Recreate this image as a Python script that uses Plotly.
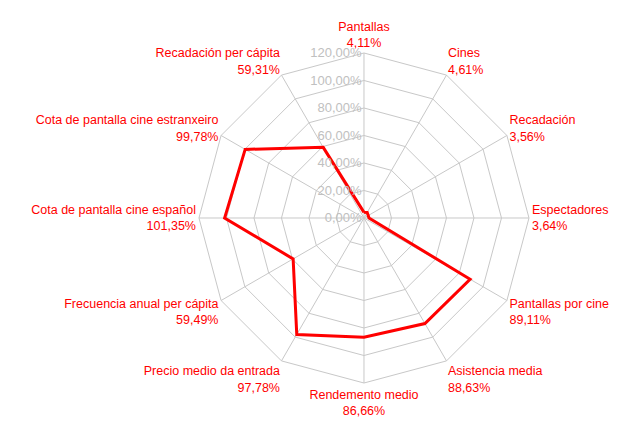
import plotly.graph_objects as go

categories = ["Pantallas", "Cines", "Recadación", "Espectadores", "Pantallas por cine",
              "Asistencia media", "Rendemento medio", "Precio medio da entrada",
              "Frecuencia anual per cápita", "Cota de pantalla cine español",
              "Cota de pantalla cine estranxeiro", "Recadación per cápita"]
values = [4.11, 4.61, 3.56, 3.64, 89.11, 88.63, 86.66, 97.78, 59.49, 101.35, 99.78, 59.31]
radial_ticks = [0, 20, 40, 60, 80, 100, 120]
radial_labels = ["0,00%", "20,00%", "40,00%", "60,00%", "80,00%", "100,00%", "120,00%"]


def fmt(v):
    return f"{v:.2f}".replace(".", ",") + "%"


ticktext = [f"{c}<br>{fmt(v)}" for c, v in zip(categories, values)]

fig = go.Figure()
fig.add_trace(go.Scatterpolar(
    r=values + [values[0]],
    theta=categories + [categories[0]],
    mode="lines",
    line=dict(color="#ff0000", width=3),
    showlegend=False,
    hoverinfo="skip",
))

fig.update_layout(
    width=628, height=428,
    margin=dict(l=0, r=0, t=0, b=0),
    paper_bgcolor="white",
    font=dict(family="Liberation Sans, Arial, sans-serif", size=12.5, color="#ff0000"),
    polar=dict(
        domain=dict(x=[0.3041, 0.8296], y=[0.1238, 0.8949]),
        bgcolor="white",
        gridshape="linear",
        radialaxis=dict(
            range=[0, 120],
            tickmode="array",
            tickvals=radial_ticks,
            ticktext=radial_labels,
            angle=90,
            tickangle=90,
            side="counterclockwise",
            showline=False,
            gridcolor="#c8c8c8",
            gridwidth=1,
            ticks="",
            tickfont=dict(color="#c0c0c0", size=13),
        ),
        angularaxis=dict(
            rotation=90,
            direction="clockwise",
            tickvals=categories,
            ticktext=ticktext,
            showline=True,
            linecolor="#c8c8c8",
            linewidth=1,
            gridcolor="#c8c8c8",
            gridwidth=1,
            ticks="",
            tickfont=dict(color="#ff0000", size=12.5),
        ),
    ),
)

fig.write_html("out.html")
